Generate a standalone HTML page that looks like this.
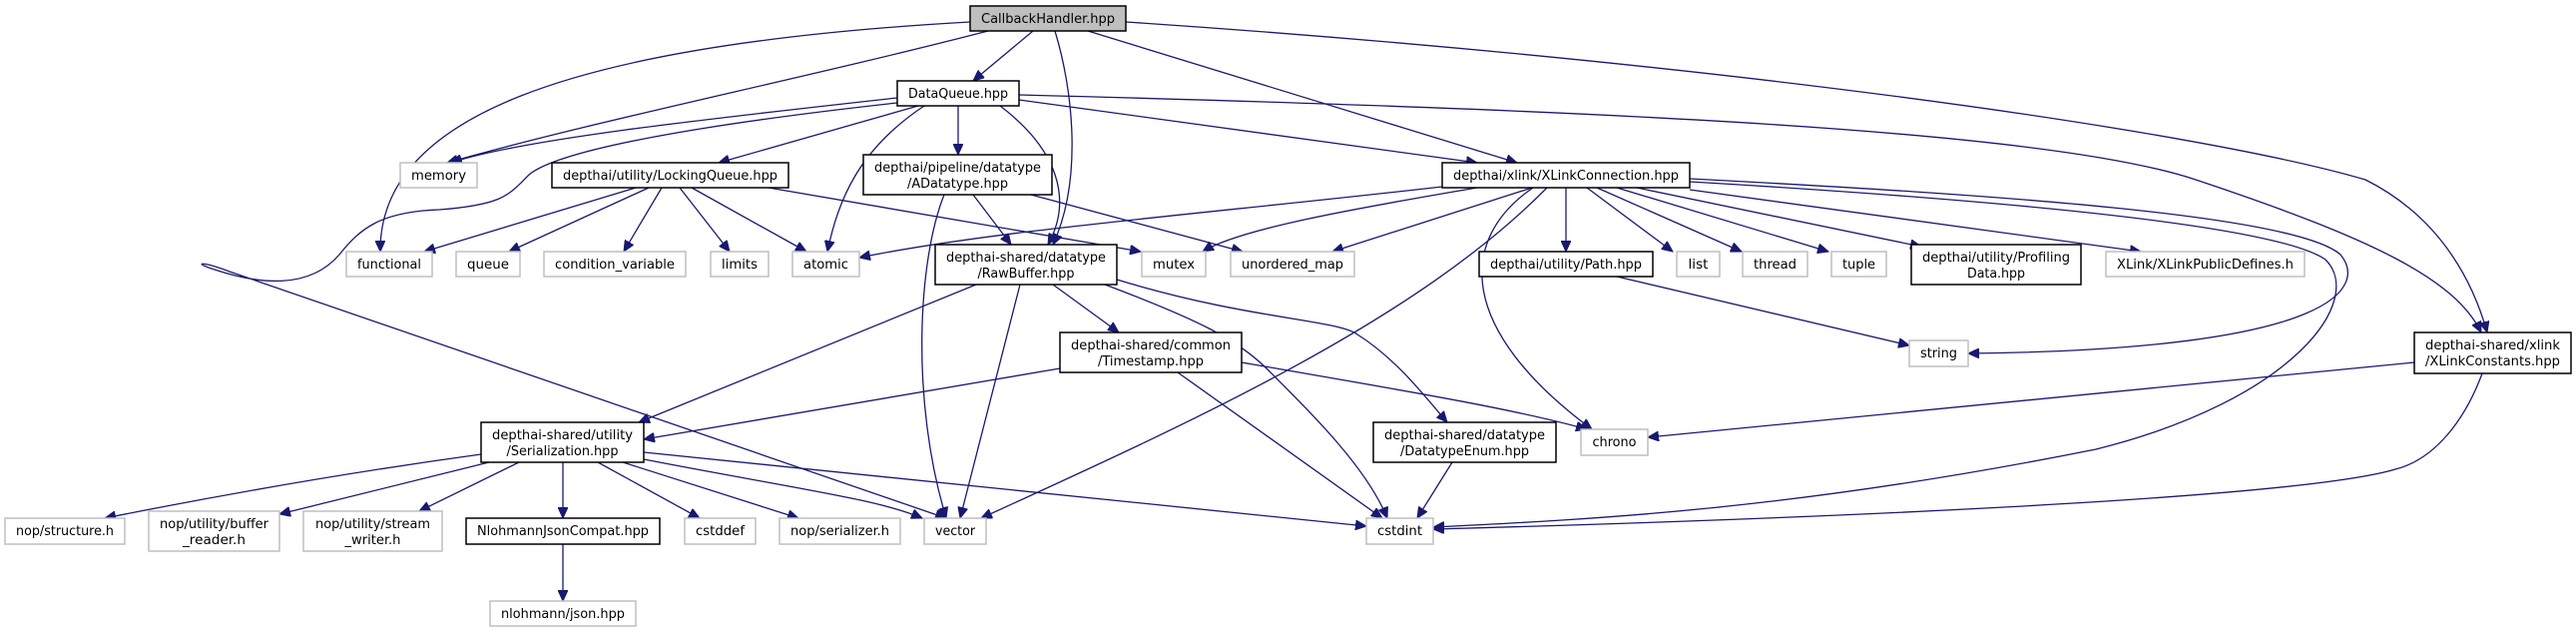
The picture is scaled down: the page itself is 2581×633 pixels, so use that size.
<!DOCTYPE html>
<html><head><meta charset="utf-8"><style>
html,body{margin:0;padding:0;background:#fff;}
svg{display:block;}
text{font-family:"DejaVu Sans Condensed","DejaVu Sans","Liberation Sans",sans-serif;font-size:13px;fill:#000;text-anchor:middle;}
.e{fill:none;stroke:#191970;stroke-width:1.3;marker-end:url(#a);}
.n{fill:#fff;stroke:#000;stroke-width:1.5;}
.g{fill:#fff;stroke:#bfbfbf;stroke-width:1.5;}
</style></head><body>
<svg width="2581" height="633" viewBox="0 0 2581 633" xmlns="http://www.w3.org/2000/svg">
<defs><marker id="a" markerUnits="userSpaceOnUse" markerWidth="12" markerHeight="10" refX="11" refY="5" orient="auto"><path d="M0,0 L11,5 L0,10 z" fill="#191970" stroke="#191970"/></marker></defs>
<g>
<path class="e" d="M1035 31 L975 81"/>
<path class="e" d="M990 31 C800 80 600 120 448 163"/>
<path class="e" d="M972 22 C560 45 380 120 381 252"/>
<path class="e" d="M1057 31 C1075 90 1085 180 1055 245"/>
<path class="e" d="M1090 31 L1520 163"/>
<path class="e" d="M1128 22 C1700 60 2200 130 2370 180 C2450 220 2480 290 2492 333"/>
<path class="e" d="M1021 95 C1600 110 2050 130 2200 180 C2380 240 2460 280 2486 333"/>
<path class="e" d="M899 98 C700 120 520 140 452 163"/>
<path class="e" d="M920 106 L720 163"/>
<path class="e" d="M960 106 L960 155"/>
<path class="e" d="M1002 106 C1060 150 1075 200 1050 245"/>
<path class="e" d="M1021 100 L1480 163"/>
<path class="e" d="M926 106 C860 150 840 200 829 252"/>
<path class="e" d="M899 103 C700 125 560 150 530 175 C510 195 505 205 440 210 C380 212 360 230 340 255 C310 290 260 285 215 270 C190 262 205 262 230 272 L948 519"/>
<path class="e" d="M637 188 L425 252"/>
<path class="e" d="M650 188 L510 252"/>
<path class="e" d="M663 188 L625 252"/>
<path class="e" d="M681 188 L731 252"/>
<path class="e" d="M693 188 L808 252"/>
<path class="e" d="M770 188 L1143 252"/>
<path class="e" d="M975 195 L1013 245"/>
<path class="e" d="M946 195 C920 260 912 400 948 519"/>
<path class="e" d="M1033 195 L1245 252"/>
<path class="e" d="M1445 187 C1200 215 1000 230 861 258"/>
<path class="e" d="M1480 188 C1350 210 1240 230 1205 252"/>
<path class="e" d="M1535 188 L1335 252"/>
<path class="e" d="M1550 188 C1420 320 1200 420 983 519"/>
<path class="e" d="M1536 188 C1460 240 1460 330 1595 430"/>
<path class="e" d="M1569 188 L1569 252"/>
<path class="e" d="M1590 188 L1676 252"/>
<path class="e" d="M1600 188 L1745 252"/>
<path class="e" d="M1620 188 L1832 252"/>
<path class="e" d="M1640 188 L1925 247"/>
<path class="e" d="M1693 190 L2145 252"/>
<path class="e" d="M1693 179 C2000 195 2300 215 2345 255 C2370 285 2350 350 1972 354"/>
<path class="e" d="M1693 182 C2000 200 2280 225 2330 260 C2370 300 2300 400 2100 450 C1800 510 1600 520 1436 528"/>
<path class="e" d="M978 285 L640 423"/>
<path class="e" d="M1022 285 L962 519"/>
<path class="e" d="M1055 285 L1121 333"/>
<path class="e" d="M1119 280 C1250 320 1340 320 1360 335 C1400 360 1430 400 1450 423"/>
<path class="e" d="M1107 285 C1200 320 1240 340 1270 370 C1320 420 1370 470 1390 519"/>
<path class="e" d="M1062 369 L645 440"/>
<path class="e" d="M1244 363 C1400 390 1520 410 1590 430"/>
<path class="e" d="M1180 373 L1385 519"/>
<path class="e" d="M1620 277 L1913 346"/>
<path class="e" d="M2419 363 L1651 438"/>
<path class="e" d="M2487 374 C2470 420 2440 460 2400 470 C2300 500 1800 520 1436 530"/>
<path class="e" d="M1455 463 L1420 519"/>
<path class="e" d="M482 455 C300 480 150 510 105 519"/>
<path class="e" d="M490 463 L280 515"/>
<path class="e" d="M520 463 L420 512"/>
<path class="e" d="M564 463 L564 519"/>
<path class="e" d="M599 463 L701 519"/>
<path class="e" d="M624 463 L800 519"/>
<path class="e" d="M645 460 C800 490 880 500 924 519"/>
<path class="e" d="M645 453 L1369 527"/>
<path class="e" d="M564 545 L564 602"/>
</g>
<g>
<rect x="972" y="6" width="156" height="25" fill="#bfbfbf" stroke="#000" stroke-width="1.5"/><text x="1050" y="23" textLength="134" lengthAdjust="spacingAndGlyphs">CallbackHandler.hpp</text>
<rect class="n" x="899" y="81" width="122" height="25"/><text x="960" y="98" textLength="100" lengthAdjust="spacingAndGlyphs">DataQueue.hpp</text>
<rect class="g" x="401" y="163" width="77" height="25"/><text x="439.5" y="180" textLength="55" lengthAdjust="spacingAndGlyphs">memory</text>
<rect class="n" x="553" y="163" width="237" height="25"/><text x="671.5" y="180" textLength="215" lengthAdjust="spacingAndGlyphs">depthai/utility/LockingQueue.hpp</text>
<rect class="n" x="865" y="155" width="189" height="40"/><text x="959.5" y="172" textLength="167" lengthAdjust="spacingAndGlyphs">depthai/pipeline/datatype</text><text x="959.5" y="188" textLength="101" lengthAdjust="spacingAndGlyphs">/ADatatype.hpp</text>
<rect class="n" x="1445" y="163" width="248" height="25"/><text x="1569" y="180" textLength="226" lengthAdjust="spacingAndGlyphs">depthai/xlink/XLinkConnection.hpp</text>
<rect class="g" x="347" y="252" width="86" height="25"/><text x="390" y="269" textLength="64" lengthAdjust="spacingAndGlyphs">functional</text>
<rect class="g" x="457" y="252" width="64" height="25"/><text x="489" y="269" textLength="42" lengthAdjust="spacingAndGlyphs">queue</text>
<rect class="g" x="545" y="252" width="142" height="25"/><text x="616" y="269" textLength="120" lengthAdjust="spacingAndGlyphs">condition_variable</text>
<rect class="g" x="712" y="252" width="58" height="25"/><text x="741" y="269" textLength="36" lengthAdjust="spacingAndGlyphs">limits</text>
<rect class="g" x="794" y="252" width="67" height="25"/><text x="827.5" y="269" textLength="45" lengthAdjust="spacingAndGlyphs">atomic</text>
<rect class="n" x="937" y="245" width="182" height="40"/><text x="1028" y="262" textLength="160" lengthAdjust="spacingAndGlyphs">depthai-shared/datatype</text><text x="1028" y="278" textLength="97" lengthAdjust="spacingAndGlyphs">/RawBuffer.hpp</text>
<rect class="g" x="1144" y="252" width="64" height="25"/><text x="1176" y="269" textLength="42" lengthAdjust="spacingAndGlyphs">mutex</text>
<rect class="g" x="1233" y="252" width="124" height="25"/><text x="1295" y="269" textLength="102" lengthAdjust="spacingAndGlyphs">unordered_map</text>
<rect class="n" x="1482" y="252" width="174" height="25"/><text x="1569" y="269" textLength="152" lengthAdjust="spacingAndGlyphs">depthai/utility/Path.hpp</text>
<rect class="g" x="1680" y="252" width="43" height="25"/><text x="1701.5" y="269" textLength="20" lengthAdjust="spacingAndGlyphs">list</text>
<rect class="g" x="1746" y="252" width="65" height="25"/><text x="1778.5" y="269" textLength="43" lengthAdjust="spacingAndGlyphs">thread</text>
<rect class="g" x="1835" y="252" width="55" height="25"/><text x="1862.5" y="269" textLength="33" lengthAdjust="spacingAndGlyphs">tuple</text>
<rect class="n" x="1915" y="245" width="170" height="40"/><text x="2000" y="262" textLength="148" lengthAdjust="spacingAndGlyphs">depthai/utility/Profiling</text><text x="2000" y="278" textLength="58" lengthAdjust="spacingAndGlyphs">Data.hpp</text>
<rect class="g" x="2110" y="252" width="199" height="25"/><text x="2209.5" y="269" textLength="177" lengthAdjust="spacingAndGlyphs">XLink/XLinkPublicDefines.h</text>
<rect class="n" x="1062" y="333" width="182" height="40"/><text x="1153" y="350" textLength="160" lengthAdjust="spacingAndGlyphs">depthai-shared/common</text><text x="1153" y="366" textLength="106" lengthAdjust="spacingAndGlyphs">/Timestamp.hpp</text>
<rect class="g" x="1913" y="341" width="59" height="26"/><text x="1942.5" y="358" textLength="37" lengthAdjust="spacingAndGlyphs">string</text>
<rect class="n" x="2419" y="333" width="157" height="41"/><text x="2497.5" y="350" textLength="135" lengthAdjust="spacingAndGlyphs">depthai-shared/xlink</text><text x="2497.5" y="366" textLength="135" lengthAdjust="spacingAndGlyphs">/XLinkConstants.hpp</text>
<rect class="n" x="482" y="423" width="163" height="40"/><text x="563.5" y="440" textLength="141" lengthAdjust="spacingAndGlyphs">depthai-shared/utility</text><text x="563.5" y="456" textLength="112" lengthAdjust="spacingAndGlyphs">/Serialization.hpp</text>
<rect class="n" x="1376" y="423" width="183" height="40"/><text x="1467.5" y="440" textLength="161" lengthAdjust="spacingAndGlyphs">depthai-shared/datatype</text><text x="1467.5" y="456" textLength="129" lengthAdjust="spacingAndGlyphs">/DatatypeEnum.hpp</text>
<rect class="g" x="1584" y="430" width="67" height="26"/><text x="1617.5" y="447" textLength="44" lengthAdjust="spacingAndGlyphs">chrono</text>
<rect class="g" x="5" y="519" width="120" height="26"/><text x="65" y="536" textLength="98" lengthAdjust="spacingAndGlyphs">nop/structure.h</text>
<rect class="g" x="149" y="512" width="131" height="40"/><text x="214.5" y="529" textLength="109" lengthAdjust="spacingAndGlyphs">nop/utility/buffer</text><text x="214.5" y="545" textLength="63" lengthAdjust="spacingAndGlyphs">_reader.h</text>
<rect class="g" x="304" y="512" width="139" height="40"/><text x="373.5" y="529" textLength="115" lengthAdjust="spacingAndGlyphs">nop/utility/stream</text><text x="373.5" y="545" textLength="56" lengthAdjust="spacingAndGlyphs">_writer.h</text>
<rect class="n" x="467" y="519" width="194" height="26"/><text x="564" y="536" textLength="172" lengthAdjust="spacingAndGlyphs">NlohmannJsonCompat.hpp</text>
<rect class="g" x="686" y="519" width="71" height="26"/><text x="721.5" y="536" textLength="49" lengthAdjust="spacingAndGlyphs">cstddef</text>
<rect class="g" x="781" y="519" width="121" height="26"/><text x="841.5" y="536" textLength="99" lengthAdjust="spacingAndGlyphs">nop/serializer.h</text>
<rect class="g" x="926" y="519" width="62" height="26"/><text x="957" y="536" textLength="40" lengthAdjust="spacingAndGlyphs">vector</text>
<rect class="g" x="1369" y="519" width="67" height="26"/><text x="1402.5" y="536" textLength="45" lengthAdjust="spacingAndGlyphs">cstdint</text>
<rect class="g" x="491" y="602" width="146" height="25"/><text x="564" y="619" textLength="124" lengthAdjust="spacingAndGlyphs">nlohmann/json.hpp</text>
</g>
</svg>
</body></html>
